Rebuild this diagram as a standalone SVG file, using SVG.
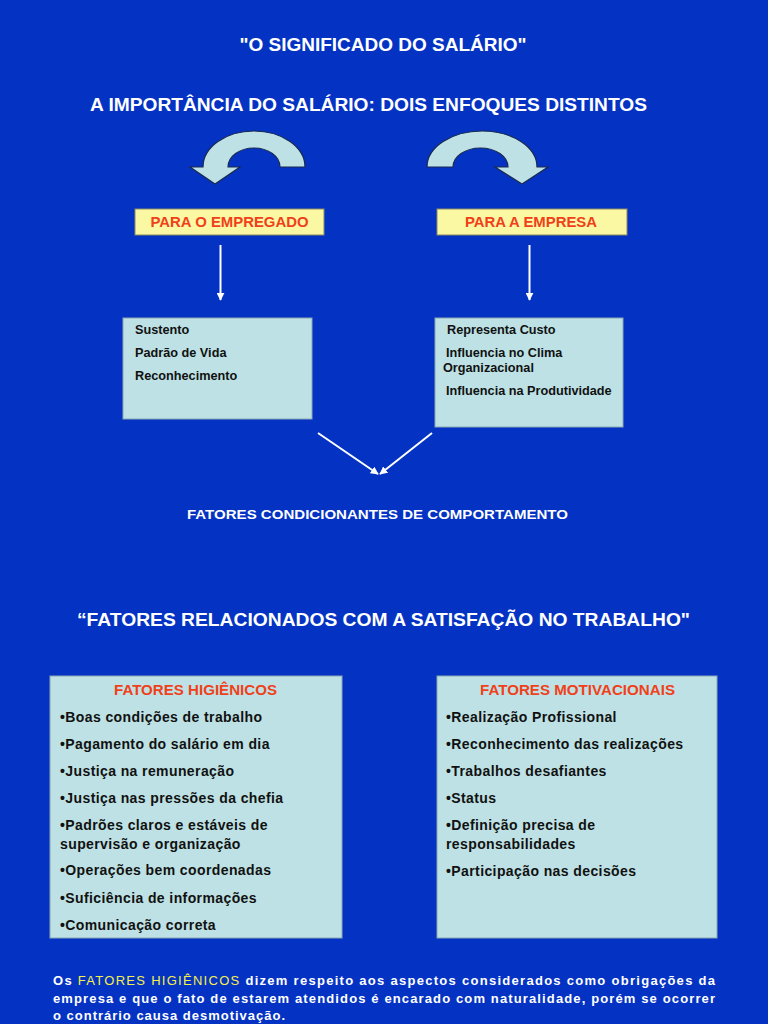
<svg xmlns="http://www.w3.org/2000/svg" width="768" height="1024" viewBox="0 0 768 1024">
<defs>
<style>
text{font-family:"Liberation Sans",Arial,sans-serif;font-weight:bold}
.w{fill:#ffffff}
.k{fill:#111111;font-size:14px;letter-spacing:0.4px}
.s{fill:#111111;font-size:12.7px}
.r{fill:#f0401a;font-size:14px}
.ybox{fill:#fbf8a4;stroke:#8a8a60;stroke-width:1}
.cbox{fill:#bde1e4;stroke:#8aa8b0;stroke-width:1}
.curve{fill:#bde1e4;stroke:#1a2a50;stroke-width:1.2}
.conn{stroke:#ffffff;stroke-width:2;fill:none}
</style>
<marker id="ah" viewBox="0 0 10 10" refX="9" refY="5" markerWidth="4" markerHeight="4" orient="auto">
<path d="M0,0 L10,5 L0,10 z" fill="#ffffff"/>
</marker>
</defs>
<rect x="0" y="0" width="768" height="1024" fill="#0433c4"/>

<g id="titles">
<text class="w" x="383" y="51" font-size="18" text-anchor="middle" textLength="287" lengthAdjust="spacingAndGlyphs">"O SIGNIFICADO DO SALÁRIO"</text>
<text class="w" x="90" y="111" font-size="18" textLength="557" lengthAdjust="spacingAndGlyphs">A IMPORTÂNCIA DO SALÁRIO: DOIS ENFOQUES DISTINTOS</text>
</g>

<g id="curve-left">
<path class="curve" d="M305,167 A51,36 0 0 0 203,167 L190,167 L215,184 L240,167 L228,167 A26,19 0 0 1 280,167 Z"/>
</g>
<g id="curve-right">
<path class="curve" d="M427,167 A55,36 0 0 1 537,167 L548,167 L522,184 L495,167 L508,167 A27.5,19 0 0 0 453,167 Z"/>
</g>

<g id="node-empregado">
<rect class="ybox" x="135" y="209" width="189" height="26"/>
<text class="r" x="229.5" y="227" text-anchor="middle" textLength="158" lengthAdjust="spacingAndGlyphs">PARA O EMPREGADO</text>
</g>
<g id="node-empresa">
<rect class="ybox" x="437" y="209" width="190" height="26"/>
<text class="r" x="531" y="227" text-anchor="middle" textLength="132" lengthAdjust="spacingAndGlyphs">PARA A EMPRESA</text>
</g>

<g id="node-list-empregado">
<rect class="cbox" x="123" y="318" width="189" height="101"/>
<text class="s" x="135" y="334">Sustento</text>
<text class="s" x="135" y="357">Padrão de Vida</text>
<text class="s" x="135" y="380">Reconhecimento</text>
</g>
<g id="node-list-empresa">
<rect class="cbox" x="435" y="318" width="188" height="109"/>
<text class="s" x="447" y="334">Representa Custo</text>
<text class="s" x="446" y="357">Influencia no Clima</text>
<text class="s" x="443" y="372">Organizacional</text>
<text class="s" x="446" y="395">Influencia na Produtividade</text>
</g>

<g id="connectors">
<line class="conn" x1="220.5" y1="245" x2="220.5" y2="300" marker-end="url(#ah)"/>
<line class="conn" x1="529.5" y1="245" x2="529.5" y2="300" marker-end="url(#ah)"/>
<line class="conn" x1="318" y1="433" x2="378" y2="474" marker-end="url(#ah)"/>
<line class="conn" x1="432" y1="433" x2="380" y2="474" marker-end="url(#ah)"/>
</g>

<g id="node-fatores-cond">
<text class="w" x="377.5" y="519" font-size="13" text-anchor="middle" textLength="381" lengthAdjust="spacingAndGlyphs">FATORES CONDICIONANTES DE COMPORTAMENTO</text>
</g>

<g id="title2">
<text class="w" x="383.5" y="626" font-size="18" text-anchor="middle" textLength="613" lengthAdjust="spacingAndGlyphs">“FATORES RELACIONADOS COM A SATISFAÇÃO NO TRABALHO"</text>
</g>

<g id="node-higienicos">
<rect class="cbox" x="50" y="676" width="292" height="262"/>
<text class="r" x="195.5" y="695" text-anchor="middle" textLength="163" lengthAdjust="spacingAndGlyphs">FATORES HIGIÊNICOS</text>
<text class="k" x="60" y="722">•Boas condições de trabalho</text>
<text class="k" x="60" y="749">•Pagamento do salário em dia</text>
<text class="k" x="60" y="776">•Justiça na remuneração</text>
<text class="k" x="60" y="803">•Justiça nas pressões da chefia</text>
<text class="k" x="60" y="830">•Padrões claros e estáveis de</text>
<text class="k" x="60" y="849">supervisão e organização</text>
<text class="k" x="60" y="875">•Operações bem coordenadas</text>
<text class="k" x="60" y="903">•Suficiência de informações</text>
<text class="k" x="60" y="930">•Comunicação correta</text>
</g>

<g id="node-motivacionais">
<rect class="cbox" x="437" y="676" width="280" height="262"/>
<text class="r" x="577.5" y="695" text-anchor="middle" textLength="195" lengthAdjust="spacingAndGlyphs">FATORES MOTIVACIONAIS</text>
<text class="k" x="446" y="722">•Realização Profissional</text>
<text class="k" x="446" y="749">•Reconhecimento das realizações</text>
<text class="k" x="446" y="776">•Trabalhos desafiantes</text>
<text class="k" x="446" y="803">•Status</text>
<text class="k" x="446" y="830">•Definição precisa de</text>
<text class="k" x="446" y="849">responsabilidades</text>
<text class="k" x="446" y="876">•Participação nas decisões</text>
</g>

<g id="footer">
<text class="w" x="53" y="985" font-size="13" textLength="662" lengthAdjust="spacing">Os <tspan fill="#f5f04a" font-weight="normal">FATORES HIGIÊNICOS</tspan> dizem respeito aos aspectos considerados como obrigações da</text>
<text class="w" x="53" y="1003" font-size="13" textLength="662" lengthAdjust="spacing">empresa e que o fato de estarem atendidos é encarado com naturalidade, porém se ocorrer</text>
<text class="w" x="53" y="1020" font-size="13" textLength="232" lengthAdjust="spacing">o contrário causa desmotivação.</text>
</g>
</svg>
